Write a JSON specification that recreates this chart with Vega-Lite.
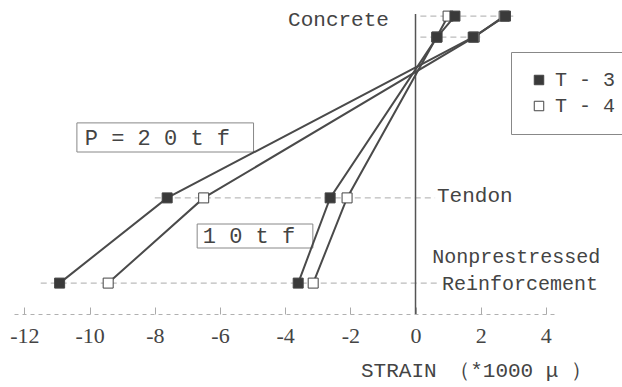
{
  "$schema": "https://vega.github.io/schema/vega-lite/v6.json",
  "width": 541,
  "height": 300,
  "autosize": "none",
  "padding": {"left": 14, "top": 14, "right": 67, "bottom": 73},
  "background": "white",
  "config": {"view": {"stroke": null}},
  "datasets": {
    "pts": [
      {"specimen": "T-4", "series": "T-4 20tf", "x": 2.72, "depth": 0.7},
      {"specimen": "T-4", "series": "T-4 20tf", "x": 1.8, "depth": 7.7},
      {"specimen": "T-4", "series": "T-4 20tf", "x": -6.5, "depth": 61.3},
      {"specimen": "T-4", "series": "T-4 20tf", "x": -9.43, "depth": 89.7},
      {"specimen": "T-4", "series": "T-4 10tf", "x": 1.0, "depth": 0.7},
      {"specimen": "T-4", "series": "T-4 10tf", "x": 0.65, "depth": 7.7},
      {"specimen": "T-4", "series": "T-4 10tf", "x": -2.1, "depth": 61.3},
      {"specimen": "T-4", "series": "T-4 10tf", "x": -3.14, "depth": 89.7},
      {"specimen": "T-3", "series": "T-3 20tf", "x": 2.76, "depth": 0.7},
      {"specimen": "T-3", "series": "T-3 20tf", "x": 1.77, "depth": 7.7},
      {"specimen": "T-3", "series": "T-3 20tf", "x": -7.62, "depth": 61.3},
      {"specimen": "T-3", "series": "T-3 20tf", "x": -10.92, "depth": 89.7},
      {"specimen": "T-3", "series": "T-3 10tf", "x": 1.21, "depth": 0.7},
      {"specimen": "T-3", "series": "T-3 10tf", "x": 0.66, "depth": 7.7},
      {"specimen": "T-3", "series": "T-3 10tf", "x": -2.62, "depth": 61.3},
      {"specimen": "T-3", "series": "T-3 10tf", "x": -3.6, "depth": 89.7}
    ],
    "levels": [
      {"level": "top", "x": 0.15, "x2": 3.0, "depth": 0.7},
      {"level": "second", "x": 0.15, "x2": 2.0, "depth": 7.7},
      {"level": "tendon", "x": -8.0, "x2": 0.6, "depth": 61.3},
      {"level": "reinforcement", "x": -11.5, "x2": 0.75, "depth": 89.7}
    ],
    "zero": [{"x": 0, "depth": 0, "d2": 100}],
    "boxes": [
      {"name": "P20", "x": -10.39, "x2": -4.97, "depth": 36.3, "d2": 46},
      {"name": "P10", "x": -6.7, "x2": -3.15, "depth": 70, "d2": 78}
    ],
    "boxtext": [
      {"text": "P = 2 0 t f", "x": -7.92, "depth": 41.2},
      {"text": "1 0 t f", "x": -5.11, "depth": 74}
    ],
    "notes": [
      {"text": "Concrete", "x": -3.91, "depth": 2, "size": 21},
      {"text": "Tendon", "x": 0.66, "depth": 60.7, "size": 21},
      {"text": "Nonprestressed", "x": 0.51, "depth": 81, "size": 20},
      {"text": "Reinforcement", "x": 0.81, "depth": 90, "size": 20}
    ]
  },
  "encoding": {
    "x": {
      "field": "x",
      "type": "quantitative",
      "scale": {"domain": [-12.32, 4.28], "nice": false, "zero": false},
      "axis": {
        "values": [-12, -10, -8, -6, -4, -2, 0, 2, 4],
        "labelExpr": "'' + datum.value",
        "grid": false,
        "domain": true,
        "domainColor": "#b0b0b0",
        "domainDash": [4, 4],
        "ticks": true,
        "tickColor": "#aaaaaa",
        "tickSize": -7,
        "labelPadding": 18,
        "labelFont": "Liberation Serif",
        "labelFontSize": 22,
        "labelColor": "#444444",
        "title": "STRAIN （*1000 μ ）",
        "titleFont": "Liberation Mono",
        "titleFontSize": 21,
        "titleFontWeight": "normal",
        "titleColor": "#444444",
        "titleX": 462,
        "titleY": 56,
        "titleAlign": "center",
        "titleBaseline": "middle"
      }
    },
    "y": {
      "field": "depth",
      "type": "quantitative",
      "scale": {"domain": [0, 100], "reverse": true, "nice": false, "zero": false},
      "axis": null
    }
  },
  "layer": [
    {
      "data": {"name": "levels"},
      "mark": {"type": "rule", "color": "#aaaaaa", "strokeWidth": 1, "strokeDash": [6, 4]},
      "encoding": {"x2": {"field": "x2"}}
    },
    {
      "data": {"name": "zero"},
      "mark": {"type": "rule", "color": "#555555", "strokeWidth": 1.5},
      "encoding": {"y2": {"field": "d2"}}
    },
    {
      "data": {"name": "boxes"},
      "mark": {"type": "rect", "fill": "white", "fillOpacity": 0, "stroke": "#888888", "strokeWidth": 1},
      "encoding": {"x2": {"field": "x2"}, "y2": {"field": "d2"}}
    },
    {
      "data": {"name": "boxtext"},
      "mark": {"type": "text", "font": "Liberation Mono", "fontSize": 22, "color": "#444444", "align": "center", "baseline": "middle"},
      "encoding": {"text": {"field": "text"}}
    },
    {
      "data": {"name": "notes"},
      "mark": {"type": "text", "font": "Liberation Mono", "color": "#444444", "align": "left", "baseline": "middle"},
      "encoding": {"text": {"field": "text"}, "size": {"field": "size", "type": "quantitative", "scale": null}}
    },
    {
      "data": {"name": "pts"},
      "mark": {"type": "line", "color": "#4a4a4a", "strokeWidth": 2},
      "encoding": {"detail": {"field": "series"}, "order": {"field": "depth", "type": "quantitative"}}
    },
    {
      "data": {"name": "pts"},
      "mark": {"type": "point", "shape": "square", "filled": true, "size": 100, "stroke": "#444444", "strokeWidth": 1, "opacity": 1},
      "encoding": {
        "fill": {
          "field": "specimen",
          "type": "nominal",
          "scale": {"domain": ["T-3", "T-4"], "range": ["#3a3a3a", "#ffffff"]},
          "legend": {
            "orient": "none",
            "legendX": 497,
            "legendY": 38,
            "title": null,
            "strokeColor": "#888888",
            "padding": 18,
            "labelFont": "Liberation Mono",
            "labelFontSize": 20,
            "labelColor": "#444444",
            "symbolType": "square",
            "symbolSize": 90,
            "symbolStrokeColor": "#444444",
            "symbolStrokeWidth": 1,
            "rowPadding": 6,
            "labelOffset": 6,
            "labelExpr": "replace(datum.label, '-', ' - ')"
          }
        }
      }
    }
  ]
}
